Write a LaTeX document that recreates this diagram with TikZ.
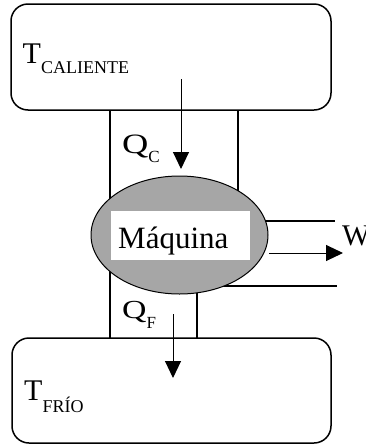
\documentclass[tikz,border=0pt]{standalone}
\usepackage{fontspec}
\setmainfont{Liberation Serif}
\newfontfamily\qfont[FakeStretch=1.3]{Liberation Serif}
\usetikzlibrary{arrows.meta,shapes.geometric}
\definecolor{engfill}{HTML}{A6A6A6}
\begin{document}
\begin{tikzpicture}[x=1pt,y=-1pt,
  reservoir/.style={draw, line width=1.5pt, rounded corners=17pt, inner sep=0pt},
  wall/.style={line width=1.8pt},
  flow/.style={line width=1pt, -{Triangle[length=17pt,width=16pt]}},
  lbl/.style={inner sep=0pt, anchor=base west}]
\path[use as bounding box] (0,0) rectangle (366,445);
% reservoirs
\node[reservoir, minimum width=320pt, minimum height=106pt] (hot) at (171,57) {};
\node[reservoir, minimum width=319pt, minimum height=105pt] (cold) at (171.5,390.5) {};
% walls and shaft lines
\coordinate (l1) at (110,110);
\coordinate (l2) at (110,338);
\coordinate (r1) at (238,110);
\coordinate (r2) at (238,200);
\coordinate (b1) at (197,285);
\coordinate (b2) at (197,338);
\coordinate (u1) at (250,221);
\coordinate (u2) at (335,221);
\coordinate (d1) at (215,286);
\coordinate (d2) at (337,286);
\draw[wall] (l1) -- (l2);
\draw[wall] (r1) -- (r2);
\draw[wall] (b1) -- (b2);
\draw[wall] (u1) -- (u2);
\draw[wall] (d1) -- (d2);
% engine
\node[ellipse, draw, line width=1pt, fill=engfill, minimum width=177pt, minimum height=118pt, inner sep=0pt] (engine) at (179.5,235) {};
\node[fill=white, minimum width=139pt, minimum height=49pt, inner sep=0pt] (mqbox) at (180,235.5) {};
\node[lbl] (mq) at (118,248) {\fontsize{31}{31}\selectfont Máquina};
% labels
\node[lbl] (tc) at (22.5,63) {\fontsize{30}{30}\selectfont T\raisebox{-10pt}{\fontsize{18}{18}\selectfont CALIENTE}};
\node[lbl] (tf) at (24,400) {\fontsize{30}{30}\selectfont T\raisebox{-12pt}{\fontsize{18}{18}\selectfont FRÍO}};
\node[lbl] (qc) at (122,153) {\qfont\fontsize{28}{28}\selectfont Q\raisebox{-9pt}{\normalfont\fontsize{17}{17}\selectfont C}};
\node[lbl] (qf) at (122,318) {\qfont\fontsize{26}{26}\selectfont Q\raisebox{-10pt}{\normalfont\fontsize{17}{17}\selectfont F}};
\node[lbl] (w) at (342,245) {\fontsize{30}{30}\selectfont W};
% heat and work arrows
\coordinate (qcs) at (181,79);
\draw[flow, shorten >=6.5pt] (qcs) -- (qcs |- engine.north);
\coordinate (qfs) at (173,314);
\coordinate (qfe) at (173,378);
\draw[flow] (qfs) -- (qfe);
\coordinate (ws) at (269,253);
\coordinate (we) at (343,253);
\draw[flow] (ws) -- (we);
\end{tikzpicture}
\end{document}
